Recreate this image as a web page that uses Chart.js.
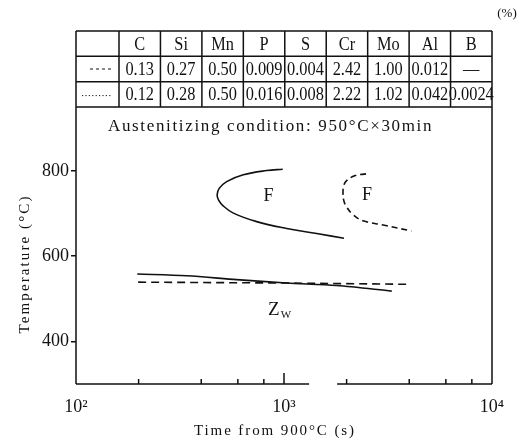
<!DOCTYPE html>
<html>
<head>
<meta charset="utf-8">
<script src="https://cdn.jsdelivr.net/npm/chart.js@4.4.1/dist/chart.umd.min.js"></script>
<style>
  html, body { margin: 0; padding: 0; background: #fff; }
  canvas { display: block; }
</style>
</head>
<body>
<canvas id="ttt" width="518" height="440"></canvas>
<script>
// chemical composition (%)
const elements = ["C", "Si", "Mn", "P", "S", "Cr", "Mo", "Al", "B"];
const steelA = ["0.13", "0.27", "0.50", "0.009", "0.004", "2.42", "1.00", "0.012", "—"];
const steelB = ["0.12", "0.28", "0.50", "0.016", "0.008", "2.22", "1.02", "0.042", "0.0024"];

// ferrite start curves: time (s), temperature (°C)
const ferriteATime = [986, 826, 637, 530, 488, 477, 484, 510, 571, 739, 1030, 1436, 1943];
const ferriteATemp = [804, 801, 791, 775, 759, 744, 732, 718, 701, 681, 665, 653, 642];
const ferriteBTime = [2480, 2200, 2000, 1935, 1922, 1935, 1990, 2150, 2400, 3000, 4100];
const ferriteBTemp = [793, 789, 777, 765, 748, 732, 717, 697, 683, 673, 659];

// Zw lines
const zwATime = [197, 340, 592, 1030, 1792, 3296];
const zwATemp = [558, 554, 545, 537, 531, 518];
const zwBTime = [199, 1000, 3960];
const zwBTemp = [539, 537, 534];

const xTickValues = [100, 1000, 10000];
const xTickLabels = ["10²", "10³", "10⁴"];
const xMinorTicks = [200, 400, 600, 800, 2000, 4000, 6000, 8000];
const yTickValues = [400, 600, 800];

// text set inside the plot, placed in data units
const curveLabels = [
  { text: "F", time: 843, temp: 741 },
  { text: "F", time: 2507, temp: 743 }
];
const zwLabel = { time: 838, temp: 461 };
const axisBreak = [1320, 1800];

const INK = "#111";
const SERIF = "'Liberation Serif', 'DejaVu Serif', serif";
Chart.defaults.font.family = SERIF;
Chart.defaults.color = INK;

function toPoints(times, temps) {
  return times.map((t, i) => ({ x: t, y: temps[i] }));
}

function curve(times, temps, dash, tension) {
  return {
    data: toPoints(times, temps),
    showLine: true,
    borderColor: INK,
    borderWidth: 1.6,
    borderDash: dash,
    pointRadius: 0,
    tension: tension,
    fill: false
  };
}

function spacedText(ctx, text, x, y, spacing, align) {
  ctx.letterSpacing = spacing + "px";
  const w = ctx.measureText(text).width - spacing;
  ctx.textAlign = "left";
  ctx.fillText(text, align === "center" ? x - w / 2 : x, y);
  ctx.letterSpacing = "0px";
}

const frame = {
  id: "frame",
  afterDraw(chart) {
    const { ctx, chartArea: a, scales: { x, y } } = chart;
    const top = 31;
    const rowH = (a.top - top) / 3;
    const firstCol = 43;
    const colW = (a.right - a.left - firstCol) / elements.length;

    ctx.save();
    ctx.strokeStyle = INK;
    ctx.lineWidth = 1.5;
    ctx.beginPath();
    ctx.moveTo(a.left, top); ctx.lineTo(a.right, top);
    ctx.moveTo(a.left, top); ctx.lineTo(a.left, a.bottom);
    ctx.moveTo(a.right, top); ctx.lineTo(a.right, a.bottom);
    for (let r = 1; r <= 3; r++) {
      ctx.moveTo(a.left, top + r * rowH);
      ctx.lineTo(a.right, top + r * rowH);
    }
    for (let c = 0; c < elements.length; c++) {
      const cx = a.left + firstCol + c * colW;
      ctx.moveTo(cx, top);
      ctx.lineTo(cx, a.top);
    }
    // time axis, broken as in the original print
    ctx.moveTo(a.left, a.bottom);
    ctx.lineTo(x.getPixelForValue(axisBreak[0]), a.bottom);
    ctx.moveTo(x.getPixelForValue(axisBreak[1]), a.bottom);
    ctx.lineTo(a.right, a.bottom);
    // inward ticks
    xMinorTicks.forEach(v => {
      const px = x.getPixelForValue(v);
      ctx.moveTo(px, a.bottom);
      ctx.lineTo(px, a.bottom - 5);
    });
    const p3 = x.getPixelForValue(1000);
    ctx.moveTo(p3, a.bottom);
    ctx.lineTo(p3, a.bottom - 11);
    ctx.stroke();

    // line samples in the table
    ctx.lineWidth = 1;
    ctx.setLineDash([3, 3]);
    ctx.beginPath();
    ctx.moveTo(a.left + 14, top + rowH * 1.5);
    ctx.lineTo(a.left + 35, top + rowH * 1.5);
    ctx.stroke();
    ctx.setLineDash([1.2, 2.2]);
    ctx.beginPath();
    ctx.moveTo(a.left + 6, top + rowH * 2.55);
    ctx.lineTo(a.left + 35, top + rowH * 2.55);
    ctx.stroke();
    ctx.setLineDash([]);

    // table text
    ctx.fillStyle = INK;
    ctx.textBaseline = "alphabetic";
    ctx.textAlign = "center";
    [elements, steelA, steelB].forEach((row, r) => {
      row.forEach((txt, c) => {
        const cx = a.left + firstCol + (c + 0.5) * colW;
        ctx.save();
        ctx.translate(cx, top + r * rowH + 18.5);
        ctx.scale(0.86, 1);
        ctx.font = "19px " + SERIF;
        ctx.fillText(txt, 0, 0);
        ctx.restore();
      });
    });

    ctx.font = "13px " + SERIF;
    ctx.fillText("(%)", 507, 17);

    ctx.font = "17px " + SERIF;
    spacedText(ctx, "Austenitizing condition: 950°C×30min", 108, 131, 1.65, "left");

    // curve labels
    ctx.font = "18px " + SERIF;
    ctx.textAlign = "center";
    ctx.textBaseline = "middle";
    curveLabels.forEach(l => {
      ctx.fillText(l.text, x.getPixelForValue(l.time), y.getPixelForValue(l.temp));
    });
    ctx.textBaseline = "alphabetic";
    ctx.textAlign = "left";
    const zx = x.getPixelForValue(zwLabel.time);
    const zy = y.getPixelForValue(zwLabel.temp);
    ctx.font = "19px " + SERIF;
    ctx.fillText("Z", zx, zy);
    const zw = ctx.measureText("Z").width;
    ctx.font = "11px " + SERIF;
    ctx.fillText("W", zx + zw + 1, zy + 3);

    // axis titles
    ctx.font = "15px " + SERIF;
    spacedText(ctx, "Time from 900°C (s)", 274, 435, 1.9, "center");
    ctx.translate(29, 265);
    ctx.rotate(-Math.PI / 2);
    spacedText(ctx, "Temperature (°C)", 0, 0, 2.1, "center");
    ctx.restore();
  }
};

new Chart(document.getElementById("ttt"), {
  type: "scatter",
  data: {
    datasets: [
      curve(ferriteATime, ferriteATemp, [], 0.4),
      curve(ferriteBTime, ferriteBTemp, [6, 4], 0.4),
      curve(zwATime, zwATemp, [], 0.3),
      curve(zwBTime, zwBTemp, [8, 5], 0)
    ]
  },
  options: {
    responsive: false,
    animation: false,
    devicePixelRatio: 1,
    layout: { padding: { top: 107, right: 26, left: 0, bottom: 0 } },
    plugins: { legend: { display: false }, tooltip: { enabled: false } },
    scales: {
      x: {
        type: "logarithmic",
        min: 100,
        max: 10000,
        afterFit: s => { s.height = 56; },
        afterBuildTicks: s => { s.ticks = xTickValues.map(v => ({ value: v })); },
        ticks: {
          callback: (v, i) => xTickLabels[i],
          font: { size: 18 },
          padding: 12,
          maxRotation: 0,
          autoSkip: false
        },
        grid: { display: false, drawTicks: false },
        border: { display: false }
      },
      y: {
        min: 300,
        max: 950,
        afterFit: s => { s.width = 76; },
        afterBuildTicks: s => { s.ticks = yTickValues.map(v => ({ value: v })); },
        ticks: { font: { size: 18 }, padding: 2 },
        grid: { drawOnChartArea: false, tickLength: 5, color: INK, lineWidth: 1.5 },
        border: { display: false }
      }
    }
  },
  plugins: [frame]
});
</script>
</body>
</html>
